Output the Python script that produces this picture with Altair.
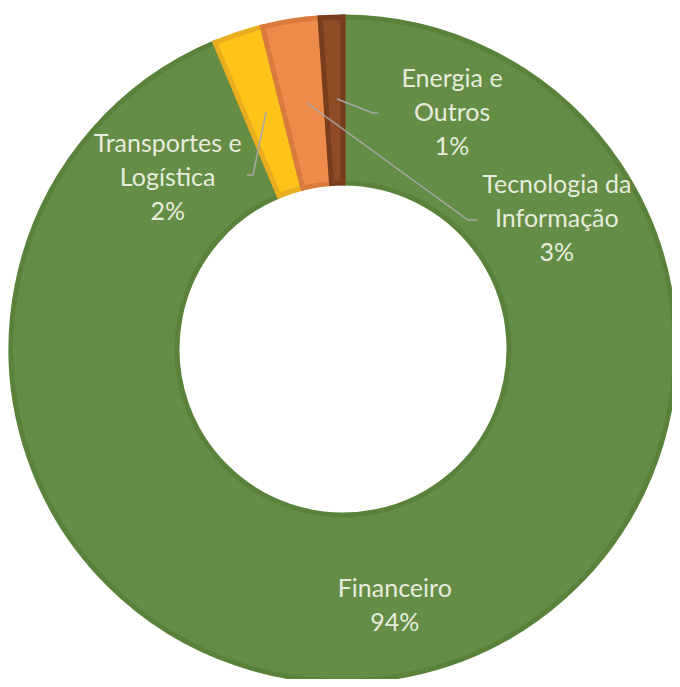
import altair as alt
import pandas as pd

# ---- data ----
categories = ["Financeiro", "Transportes e Logística", "Tecnologia da Informação", "Energia e Outros"]
label_lines = ["Financeiro", "Transportes e\nLogística", "Tecnologia da\nInformação", "Energia e\nOutros"]
shares = [93.7, 2.4, 2.8, 1.1]

# label placement (polar: degrees clockwise from 12 o'clock, pixels from centre)
label_angle = [168.6, 314.3, 58.8, 24.8]
label_radius = [262, 245, 250, 260]

# leader lines (points relative to the centre, y up)
leader_category = ["Energia e Outros"] * 3 + ["Tecnologia da Informação"] * 3 + ["Transportes e Logística"] * 3
leader_step = [0, 1, 2] * 3
leader_dx = [-6, 30, 35, -36, 125, 134, -77, -90, -96]
leader_dy = [250, 236, 236, 246, 129, 129, 237, 174, 174]

# ---- styles ----
fill_colors = ["#658D45", "#FFC31A", "#EE8B4A", "#8D4B26"]
border_colors = ["#5B823A", "#E8AE1F", "#DA7A3C", "#773D1C"]
text_color = "#E6ECDD"
W, H = 664, 671
CX, CY = 335, 341
R_OUT, R_IN = 332, 166
LINE_H = 34

slices = pd.DataFrame({
    "category": categories,
    "share": shares,
    "idx": list(range(len(categories))),
    "label": [f"{l}\n{round(s)}%" for l, s in zip(label_lines, shares)],
    "nlines": [l.count("\n") + 2 for l in label_lines],
    "angle": label_angle,
    "radius": label_radius,
})
leaders = pd.DataFrame({
    "category": leader_category,
    "step": leader_step,
    "dx": leader_dx,
    "dy": leader_dy,
})

xscale = alt.Scale(domain=[-CX, W - CX], nice=False, zero=False)
yscale = alt.Scale(domain=[-(H - CY), CY], nice=False, zero=False)

arcs = alt.Chart(slices).mark_arc(
    outerRadius=R_OUT, innerRadius=R_IN, strokeWidth=5, strokeJoin="miter"
).encode(
    theta=alt.Theta("share:Q", stack=True),
    color=alt.Color("category:N", scale=alt.Scale(domain=categories, range=fill_colors), legend=None),
    stroke=alt.Stroke("category:N", scale=alt.Scale(domain=categories, range=border_colors), legend=None),
    order=alt.Order("idx:Q"),
    x=alt.value(CX),
    y=alt.value(CY),
)

lines = alt.Chart(leaders).mark_line(color="#A8A8A8", strokeWidth=1.5).encode(
    x=alt.X("dx:Q", scale=xscale, axis=None),
    y=alt.Y("dy:Q", scale=yscale, axis=None),
    detail="category:N",
    order="step:Q",
)

labels = alt.Chart(slices).transform_calculate(
    px="datum.radius * sin(datum.angle * PI / 180)",
    py=f"datum.radius * cos(datum.angle * PI / 180) + (datum.nlines - 1) * {LINE_H / 2}",
).mark_text(
    font="Lato", fontSize=25, color=text_color, lineBreak="\n", lineHeight=LINE_H,
    align="center", baseline="middle",
).encode(
    x=alt.X("px:Q", scale=xscale, axis=None),
    y=alt.Y("py:Q", scale=yscale, axis=None),
    text="label:N",
)

chart = alt.layer(arcs, lines, labels).properties(
    width=W, height=H, padding=0, autosize=alt.AutoSizeParams(type="none"),
    background="white",
).configure_view(stroke=None)

chart.save("out.html", embed_options={"renderer": "svg", "actions": False})
